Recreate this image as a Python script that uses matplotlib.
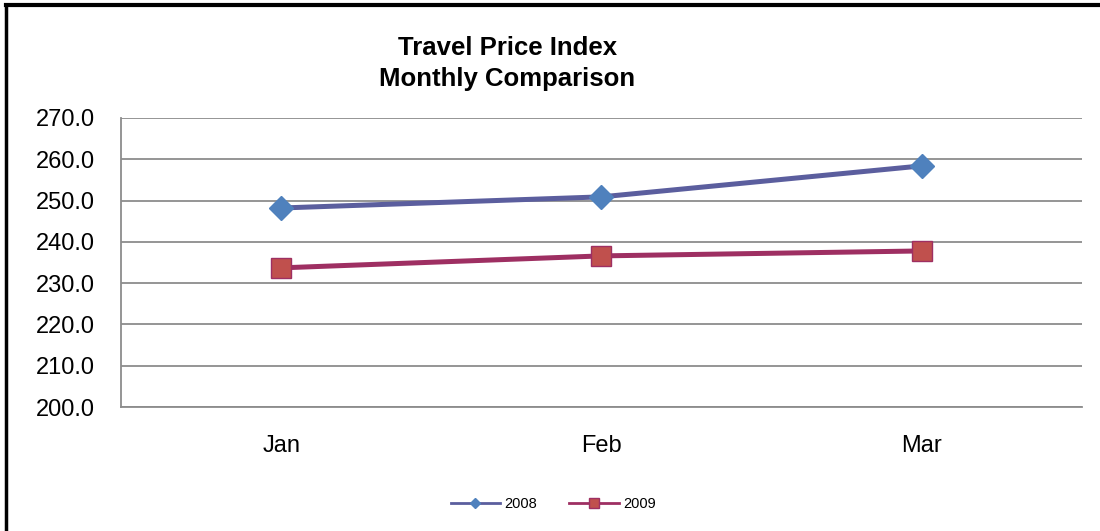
import matplotlib
matplotlib.use("Agg")
import matplotlib.pyplot as plt

months = ["Jan", "Feb", "Mar"]
idx_2008 = [248.2, 250.9, 258.4]
idx_2009 = [233.7, 236.6, 237.8]
y_ticks = [200, 210, 220, 230, 240, 250, 260, 270]

plt.rcParams["font.family"] = ["Liberation Sans", "DejaVu Sans"]

fig = plt.figure(figsize=(11, 5.31), dpi=100)
ax = fig.add_axes([0.11, 0.2335, 0.8736, 0.5443])

x = range(len(months))
ax.plot(x, idx_2008, color="#5B5E9E", lw=3.6, marker="D", ms=12,
        mfc="#4F81BD", mec="#4F81BD", label="2008", zorder=3)
ax.plot(x, idx_2009, color="#9E2F62", lw=3.6, marker="s", ms=15,
        mfc="#C0504D", mec="#9E2F62", mew=1, label="2009", zorder=3)

ax.set_xlim(-0.5, 2.5)
ax.set_ylim(200, 270)
ax.set_yticks(y_ticks)
ax.set_yticklabels(["%.1f" % v for v in y_ticks])
ax.set_xticks(list(x))
ax.set_xticklabels(months)
ax.tick_params(axis="both", length=0, labelsize=17, colors="black")
ax.tick_params(axis="y", pad=19)
ax.tick_params(axis="x", pad=20)
ax.grid(axis="y", color="#8C8C8C", lw=1.3)
ax.set_axisbelow(True)
for s in ["top", "right"]:
    ax.spines[s].set_visible(False)
for s in ["left", "bottom"]:
    ax.spines[s].set_color("#8C8C8C")
    ax.spines[s].set_linewidth(1.3)

fig.text(0.461, 0.88, "Travel Price Index\nMonthly Comparison", ha="center",
         va="center", fontsize=18.5, fontweight="bold", linespacing=1.35)

leg = fig.legend(loc="center", bbox_to_anchor=(0.503, 0.051), ncol=2,
                 frameon=False, fontsize=10.5, handlelength=3.4,
                 columnspacing=2.2, handletextpad=0.3, markerscale=0.45)
for ln in leg.get_lines():
    ln.set_linewidth(2)

# outer frame (left and top edges)
fig.add_artist(plt.Line2D([0.005, 0.005], [0.0, 0.99], color="black", lw=2.5,
                          transform=fig.transFigure))
fig.add_artist(plt.Line2D([0.005, 0.998], [0.99, 0.99], color="black", lw=3,
                          transform=fig.transFigure))

fig.savefig("out.png", dpi=100)
